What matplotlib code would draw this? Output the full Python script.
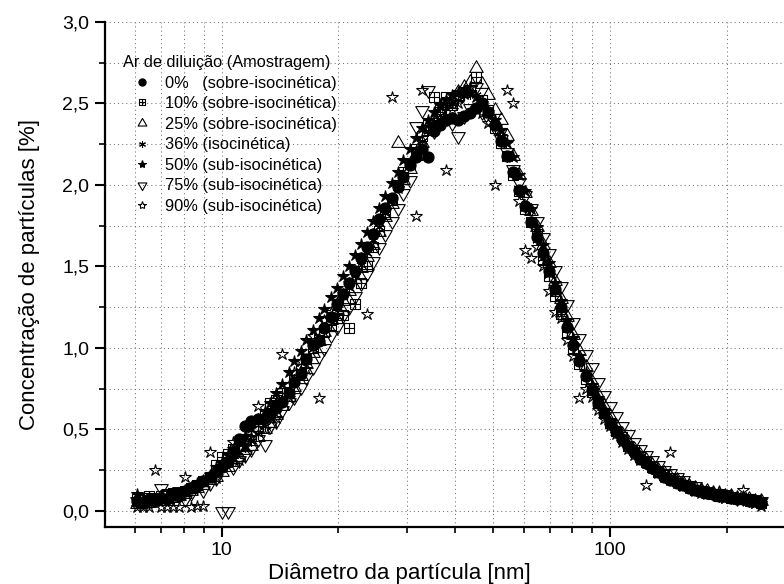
import numpy as np
import matplotlib
matplotlib.use('Agg')
import matplotlib.pyplot as plt
from matplotlib.path import Path
from matplotlib.ticker import FixedLocator, MultipleLocator, FuncFormatter, NullFormatter

plt.rcParams['font.family'] = ['Liberation Sans', 'DejaVu Sans']

# SMPS channel mid-point diameters [nm]
diam = [6.04, 6.26, 6.49, 6.73, 6.98, 7.23, 7.50, 7.77, 8.06, 8.35, 8.66, 8.98, 9.31,
        9.65, 10.0, 10.4, 10.7, 11.1, 11.5, 11.9, 12.4, 12.9, 13.3, 13.8, 14.3, 14.9,
        15.4, 16.0, 16.5, 17.2, 17.8, 18.4, 19.1, 19.8, 20.5, 21.3, 22.1, 22.9, 23.7,
        24.6, 25.5, 26.4, 27.4, 28.4, 29.4, 30.5, 31.6, 32.8, 34.0, 35.2, 36.5, 37.9,
        39.2, 40.7, 42.2, 43.7, 45.3, 47.0, 48.7, 50.5, 52.3, 54.2, 56.2, 58.3, 60.4,
        62.6, 64.9, 67.3, 69.8, 72.3, 75.0, 77.7, 80.6, 83.5, 86.6, 89.8, 93.1, 96.5,
        100.0, 103.7, 107.5, 111.4, 115.5, 119.7, 124.1, 128.6, 133.2, 138.2, 143.3, 148.6, 154.0,
        159.6, 165.5, 171.5, 177.8, 184.4, 191.1, 198.1, 205.4, 212.9, 220.7, 228.8, 237.2, 245.8]

conc_00 = [0.06, 0.05, 0.07, 0.06, 0.08, 0.07, 0.10, 0.09, 0.12, 0.14, 0.15, 0.18, 0.21,
           0.24, 0.27, 0.30, 0.36, 0.44, 0.52, 0.55, 0.56, 0.57, 0.59, 0.63, 0.67, 0.72,
           0.79, 0.84, 0.93, 1.02, 1.04, 1.12, 1.19, 1.27, 1.33, 1.40, 1.47, 1.55, 1.62,
           1.70, 1.79, 1.86, 1.92, 1.99, 2.05, 2.12, 2.17, 2.22, 2.17, 2.33, 2.37, 2.40,
           2.41, 2.40, 2.42, 2.44, 2.47, 2.50, 2.45, 2.37, 2.27, 2.18, 2.08, 1.97, 1.87,
           1.77, 1.68, 1.58, 1.47, 1.36, 1.25, 1.13, 1.02, 0.92, 0.83, 0.74, 0.66, 0.60,
           0.54, 0.49, 0.44, 0.40, 0.36, 0.32, 0.29, 0.26, 0.24, 0.21, 0.19, 0.17, 0.16,
           0.14, 0.13, 0.12, 0.11, 0.10, 0.09, 0.09, 0.08, 0.07, 0.07, 0.06, 0.06, 0.05]

conc_10 = [0.07, 0.08, 0.09, 0.08, 0.09, 0.10, 0.11, 0.10, 0.12, 0.14, 0.16, 0.18, 0.21,
           0.28, 0.33, 0.35, 0.38, 0.40, 0.44, 0.46, 0.52, 0.58, 0.66, 0.68, 0.72, 0.76,
           0.80, 0.87, 0.93, 1.00, 1.05, 1.10, 1.14, 1.18, 1.20, 1.12, 1.27, 1.40, 1.50,
           1.62, 1.72, 1.82, 1.91, 2.00, 2.08, 2.13, 2.22, 2.30, 2.37, 2.54, 2.48, 2.54,
           2.49, 2.55, 2.57, 2.58, 2.66, 2.52, 2.46, 2.35, 2.26, 2.18, 2.06, 1.96, 1.85,
           1.77, 1.70, 1.54, 1.44, 1.32, 1.21, 1.10, 1.00, 0.90, 0.81, 0.73, 0.66, 0.60,
           0.54, 0.49, 0.45, 0.40, 0.37, 0.33, 0.30, 0.27, 0.24, 0.22, 0.20, 0.18, 0.16,
           0.15, 0.13, 0.12, 0.11, 0.10, 0.09, 0.09, 0.08, 0.08, 0.07, 0.07, 0.06, 0.05]

conc_25 = [0.04, 0.05, 0.05, 0.06, 0.06, 0.07, 0.08, 0.09, 0.10, 0.12, 0.14, 0.16, 0.19,
           0.21, 0.24, 0.27, 0.30, 0.33, 0.37, 0.40, 0.45, 0.50, 0.54, 0.59, 0.64, 0.70,
           0.76, 0.83, 0.90, 0.97, 1.04, 1.10, 1.17, 1.23, 1.29, 1.35, 1.42, 1.49, 1.56,
           1.63, 1.71, 1.80, 1.88, 2.26, 2.03, 2.10, 2.18, 2.26, 2.33, 2.40, 2.45, 2.50,
           2.53, 2.57, 2.60, 2.63, 2.72, 2.62, 2.55, 2.46, 2.40, 2.30, 2.18, 2.06, 1.95,
           1.84, 1.74, 1.63, 1.52, 1.41, 1.30, 1.19, 1.08, 0.98, 0.88, 0.79, 0.71, 0.64,
           0.58, 0.52, 0.47, 0.42, 0.38, 0.34, 0.31, 0.28, 0.25, 0.23, 0.21, 0.19, 0.17,
           0.15, 0.14, 0.13, 0.12, 0.11, 0.10, 0.09, 0.09, 0.08, 0.08, 0.07, 0.06, 0.06]

conc_36 = [0.05, 0.06, 0.05, 0.07, 0.07, 0.08, 0.09, 0.11, 0.12, 0.14, 0.16, 0.18, 0.21,
           0.23, 0.26, 0.29, 0.32, 0.36, 0.39, 0.43, 0.47, 0.52, 0.57, 0.62, 0.67, 0.73,
           0.79, 0.86, 0.92, 0.99, 1.05, 1.12, 1.18, 1.25, 1.31, 1.37, 1.44, 1.51, 1.58,
           1.66, 1.74, 1.83, 1.91, 1.99, 2.06, 2.13, 2.20, 2.27, 2.33, 2.39, 2.43, 2.47,
           2.50, 2.52, 2.55, 2.56, 2.55, 2.51, 2.43, 2.36, 2.27, 2.17, 2.07, 1.96, 1.86,
           1.76, 1.66, 1.55, 1.45, 1.34, 1.23, 1.12, 1.02, 0.92, 0.83, 0.74, 0.67, 0.61,
           0.55, 0.50, 0.45, 0.41, 0.37, 0.33, 0.30, 0.27, 0.24, 0.22, 0.20, 0.18, 0.16,
           0.15, 0.13, 0.12, 0.11, 0.10, 0.09, 0.09, 0.08, 0.08, 0.07, 0.07, 0.06, 0.05]

conc_50 = [0.10, 0.07, 0.08, 0.06, 0.09, 0.08, 0.10, 0.11, 0.13, 0.14, 0.17, 0.19, 0.22,
           0.27, 0.30, 0.34, 0.38, 0.42, 0.46, 0.51, 0.56, 0.61, 0.66, 0.72, 0.78, 0.85,
           0.92, 0.98, 1.05, 1.11, 1.18, 1.24, 1.31, 1.37, 1.44, 1.50, 1.57, 1.64, 1.71,
           1.78, 1.86, 1.93, 2.01, 2.08, 2.15, 2.22, 2.29, 2.35, 2.40, 2.45, 2.49, 2.52,
           2.55, 2.57, 2.58, 2.57, 2.54, 2.50, 2.45, 2.40, 2.34, 2.26, 2.17, 2.06, 1.96,
           1.85, 1.74, 1.63, 1.52, 1.40, 1.29, 1.17, 1.06, 0.95, 0.85, 0.77, 0.69, 0.62,
           0.54, 0.49, 0.44, 0.40, 0.36, 0.32, 0.29, 0.26, 0.23, 0.21, 0.19, 0.17, 0.15,
           0.14, 0.13, 0.11, 0.10, 0.10, 0.09, 0.08, 0.08, 0.07, 0.07, 0.06, 0.05, 0.05]

conc_75 = [0.06, 0.07, 0.06, 0.08, 0.14, 0.10, 0.09, 0.12, 0.07, 0.11, 0.15, 0.13, 0.17,
           0.20, 0.00, 0.00, 0.27, 0.31, 0.34, 0.38, 0.44, 0.41, 0.52, 0.55, 0.62, 0.67,
           0.70, 0.76, 0.82, 0.88, 0.95, 1.00, 1.08, 1.13, 1.20, 1.25, 1.32, 1.40, 1.46,
           1.53, 1.62, 1.70, 1.78, 1.86, 1.95, 2.03, 2.36, 2.46, 2.58, 2.33, 2.44, 2.41,
           2.38, 2.30, 2.42, 2.47, 2.60, 2.45, 2.41, 2.35, 2.28, 2.20, 2.10, 2.02, 1.94,
           1.86, 1.78, 1.68, 1.58, 1.48, 1.38, 1.27, 1.16, 1.06, 0.96, 0.88, 0.79, 0.71,
           0.64, 0.58, 0.52, 0.47, 0.42, 0.38, 0.34, 0.31, 0.28, 0.25, 0.23, 0.21, 0.19,
           0.16, 0.15, 0.13, 0.12, 0.11, 0.10, 0.10, 0.09, 0.08, 0.08, 0.07, 0.07, 0.06]

conc_90 = [0.02, 0.02, 0.02, 0.25, 0.02, 0.02, 0.02, 0.02, 0.21, 0.02, 0.03, 0.03, 0.36,
           0.20, 0.27, 0.30, 0.42, 0.31, 0.40, 0.45, 0.64, 0.50, 0.58, 0.57, 0.96, 0.69,
           0.85, 0.92, 0.87, 1.07, 0.69, 1.17, 1.22, 1.28, 1.33, 1.40, 1.47, 1.55, 1.21,
           1.70, 1.78, 1.84, 2.54, 1.98, 2.06, 2.14, 1.81, 2.58, 2.35, 2.40, 2.49, 2.09,
           2.46, 2.50, 2.56, 2.60, 2.47, 2.44, 2.38, 2.00, 2.30, 2.58, 2.50, 1.90, 1.60,
           1.55, 1.62, 1.50, 1.35, 1.22, 1.18, 1.05, 0.95, 0.69, 0.75, 0.70, 0.62, 0.56,
           0.52, 0.47, 0.42, 0.38, 0.34, 0.31, 0.16, 0.27, 0.25, 0.22, 0.36, 0.19, 0.17,
           0.15, 0.12, 0.14, 0.11, 0.10, 0.12, 0.08, 0.09, 0.07, 0.13, 0.06, 0.05, 0.03]

series_labels = ['0%   (sobre-isocinética)', '10% (sobre-isocinética)', '25% (sobre-isocinética)',
                 '36% (isocinética)', '50% (sub-isocinética)', '75% (sub-isocinética)',
                 '90% (sub-isocinética)']
x_tick_values = [10, 100]
y_tick_values = [0.0, 0.5, 1.0, 1.5, 2.0, 2.5, 3.0]

# custom markers
sq_plus = Path([(-0.5, -0.5), (0.5, -0.5), (0.5, 0.5), (-0.5, 0.5), (-0.5, -0.5),
                (-0.5, 0.0), (0.5, 0.0), (0.0, -0.5), (0.0, 0.5)],
               [Path.MOVETO, Path.LINETO, Path.LINETO, Path.LINETO, Path.CLOSEPOLY,
                Path.MOVETO, Path.LINETO, Path.MOVETO, Path.LINETO])
tri_up = Path([(0, 0.577), (-0.5, -0.289), (0.5, -0.289), (0, 0.577)],
              [Path.MOVETO, Path.LINETO, Path.LINETO, Path.CLOSEPOLY])
tri_dn = Path([(0, -0.577), (-0.5, 0.289), (0.5, 0.289), (0, -0.577)],
              [Path.MOVETO, Path.LINETO, Path.LINETO, Path.CLOSEPOLY])

styles = [
    dict(marker='o', ms=8.0, mfc='black'),
    dict(marker=sq_plus, ms=6.5, mfc='none'),
    dict(marker=tri_up, ms=11.2, mfc='none'),
    dict(marker=(6, 2, 0), ms=7.5, mfc='none'),
    dict(marker='*', ms=9.2, mfc='black'),
    dict(marker=tri_dn, ms=11.2, mfc='none'),
    dict(marker='*', ms=9.2, mfc='none'),
]

all_series = [conc_00, conc_10, conc_25, conc_36, conc_50, conc_75, conc_90]

fig = plt.figure(figsize=(7.84, 5.84), dpi=100)
ax = fig.add_axes([104.7 / 784, 57 / 584, 1 - 104.7 / 784, 505 / 584])

for vals, lab, st in zip(all_series, series_labels, styles):
    ax.plot(diam, vals, linestyle='none', mec='black', mew=0.8, label=lab, **st)

ax.set_xscale('log')
ax.set_xlim(5, 281)
ax.set_ylim(-0.1, 3.0)

ax.xaxis.set_major_locator(FixedLocator(x_tick_values))
minor_x = [6, 7, 8, 9, 20, 30, 40, 50, 60, 70, 80, 90, 200]
ax.xaxis.set_minor_locator(FixedLocator(minor_x))
ax.xaxis.set_major_formatter(FuncFormatter(lambda v, p: f'{v:.0f}'))
ax.xaxis.set_minor_formatter(NullFormatter())

ax.yaxis.set_major_locator(FixedLocator(y_tick_values))
ax.yaxis.set_minor_locator(MultipleLocator(0.25))
ax.yaxis.set_major_formatter(FuncFormatter(lambda v, p: f'{v:.1f}'.replace('.', ',')))

ax.grid(which='both', axis='both', linestyle=(0, (1, 3)), color='0.45', linewidth=0.75)
ax.set_axisbelow(True)

for s in ['top', 'right']:
    ax.spines[s].set_visible(False)
for s in ['left', 'bottom']:
    ax.spines[s].set_linewidth(1.6)

ax.tick_params(which='major', direction='out', length=7, width=1.5, labelsize=14, pad=4)
ax.tick_params(which='minor', direction='out', length=4.3, width=1.2)

ax.set_xlabel('Diâmetro da partícula [nm]', fontsize=16)
ax.set_ylabel('Concentração de partículas [%]', fontsize=16)
ax.xaxis.set_label_coords((399 - 104.7) / 679.3, -0.071)
ax.yaxis.set_label_coords((40 - 104.7) / 679.3, 0.5)

leg = ax.legend(title='Ar de diluição (Amostragem)', loc='upper left',
                bbox_to_anchor=((123 - 104.7) / 679.3, (527 - 55) / 505),
                frameon=False, fontsize=11.8, title_fontsize=11.8, markerscale=0.65,
                handlelength=2.28, handletextpad=0.28, labelspacing=0.34,
                borderpad=0, borderaxespad=0, alignment='left')

fig.savefig('out.png', dpi=100)
